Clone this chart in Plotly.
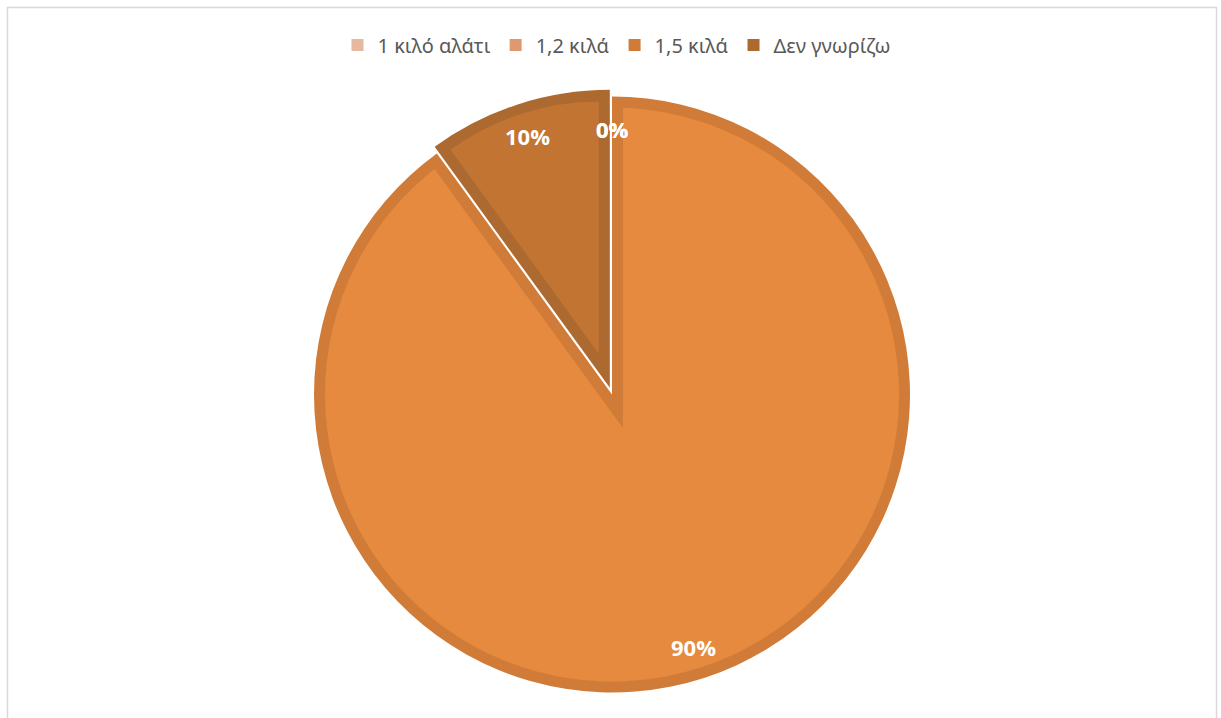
import math
import plotly.graph_objects as go

# Survey answers (share of respondents, %)
categories = ["1 κιλό αλάτι", "1,2 κιλά", "1,5 κιλά", "Δεν γνωρίζω"]
shares = [0, 0, 90, 10]

# Outline colour of each slice (also used for the legend swatch) and body colour
outline_colors = ["#E6B89E", "#DE9A6E", "#D07C38", "#AC6930"]
body_colors = ["#ECC7B1", "#E5AA85", "#E58A3E", "#C27432"]

# Canvas and pie geometry in pixels
W, H = 1221, 718
CX, CY = 612.0, 394.5     # centre of the pie
R = 298.0                 # outer radius
BAND = 11.0               # width of the darker outline drawn inside each slice
EXPLODE = [0.0, 0.0, 0.0, 7.0]   # how far each slice is pulled out
LABEL_R = 0.89            # label distance as a fraction of the radius

BIG = 2      # "1,5 κιλά"
SMALL = 3    # "Δεν γνωρίζω"
CLEAR = "rgba(0,0,0,0)"

total = float(sum(shares))
starts, mids, spans = [], [], []
acc = 0.0
for v in shares:
    starts.append(360.0 * acc / total)
    spans.append(360.0 * v / total)
    mids.append(360.0 * (acc + v / 2.0) / total)
    acc += v


def unit(deg):
    """Screen-space unit vector for an angle measured clockwise from 12 o'clock."""
    a = math.radians(deg)
    return math.sin(a), -math.cos(a)


def move(p, deg, dist):
    ux, uy = unit(deg)
    return p[0] + ux * dist, p[1] + uy * dist


def domain(p, r):
    cx, cy = p
    return dict(x=[(cx - r) / W, (cx + r) / W], y=[1 - (cy + r) / H, 1 - (cy - r) / H])


def only(idx, color):
    cols = [CLEAR] * len(categories)
    cols[idx] = color
    return cols


def layer(p, r, colors, legend=False):
    return go.Pie(
        labels=categories,
        values=shares,
        sort=False,
        direction="clockwise",
        rotation=0,
        domain=domain(p, r),
        marker=dict(colors=colors, line=dict(width=0)),
        textinfo="none",
        showlegend=legend,
        hoverinfo="label+percent" if legend else "skip",
    )


A = (CX, CY)
small_mid = mids[SMALL]
half = spans[SMALL] / 2.0
miter = BAND / math.sin(math.radians(half))     # apex shift of an inset wedge

# Apex of the inset edges of the big slice (they meet inside the big slice)
A_in = move(A, small_mid + 180.0, miter)
r_in = H - A_in[1] - 1.0

# Pieces of the outline running along the straight edges of the big slice
edge_pieces = []
reach = math.sqrt((R - BAND / 2.0) ** 2 - BAND ** 2)
for edge_deg in (starts[SMALL], starts[SMALL] + spans[SMALL]):
    ux, uy = unit(edge_deg)
    proj = (A_in[0] - CX) * ux + (A_in[1] - CY) * uy
    t = (reach - proj) / 2.0
    edge_pieces.append((move(A_in, edge_deg, t), t))

# Small slice (pulled out) and its inset body
A_small = move(A, small_mid, EXPLODE[SMALL])
A_small_in = move(A_small, small_mid, miter)
d0 = (R - BAND) - miter
d1 = math.sqrt((R - BAND) ** 2 + miter ** 2 - 2 * (R - BAND) * miter * math.cos(math.radians(half)))
r_small_in = (d0 + d1) / 2.0

traces = [
    layer(A, R, outline_colors, legend=True),                   # outline colour, full size
    layer(A, R - BAND, only(BIG, body_colors[BIG])),            # body of the big slice
    layer(A_in, r_in, only(SMALL, outline_colors[BIG])),        # outline along straight edges
]
for p, r in edge_pieces:
    traces.append(layer(p, r, only(SMALL, outline_colors[BIG])))
traces += [
    layer(A, R + 10.0, only(SMALL, "#FFFFFF")),                 # keeps the gap around the pulled slice
    layer(A_small, R, only(SMALL, outline_colors[SMALL])),      # pulled slice outline
    layer(A_small_in, r_small_in, only(SMALL, body_colors[SMALL])),  # pulled slice body
]

fig = go.Figure(traces)

# Percentage labels placed along each slice's mid-angle
annotations = []
for i, v in enumerate(shares):
    apex = move(A, mids[i], EXPLODE[i])
    lx, ly = move(apex, mids[i], LABEL_R * R)
    annotations.append(dict(
        x=lx / W, y=1 - ly / H, xref="paper", yref="paper",
        text=f"{v / total:.0%}", showarrow=False,
        font=dict(family="Open Sans", size=22, color="#FFFFFF", weight="bold"),
        xanchor="center", yanchor="middle",
    ))

fig.update_layout(
    width=W, height=H,
    margin=dict(l=0, r=0, t=0, b=0),
    paper_bgcolor="#FFFFFF",
    plot_bgcolor="#FFFFFF",
    annotations=annotations,
    legend=dict(
        orientation="h",
        x=617 / W, xanchor="center",
        y=1 - 45 / H, yanchor="middle",
        font=dict(family="Noto Sans", size=20, color="#595959"),
        bgcolor="rgba(0,0,0,0)",
        itemwidth=30,
        traceorder="normal",
    ),
    shapes=[dict(
        type="rect", xref="paper", yref="paper",
        x0=7.5 / W, x1=1216.5 / W, y0=-0.05, y1=1 - 7.5 / H,
        line=dict(color="#D9D9D9", width=1.5), fillcolor="rgba(0,0,0,0)",
    )],
)

fig.write_html("out.html")
